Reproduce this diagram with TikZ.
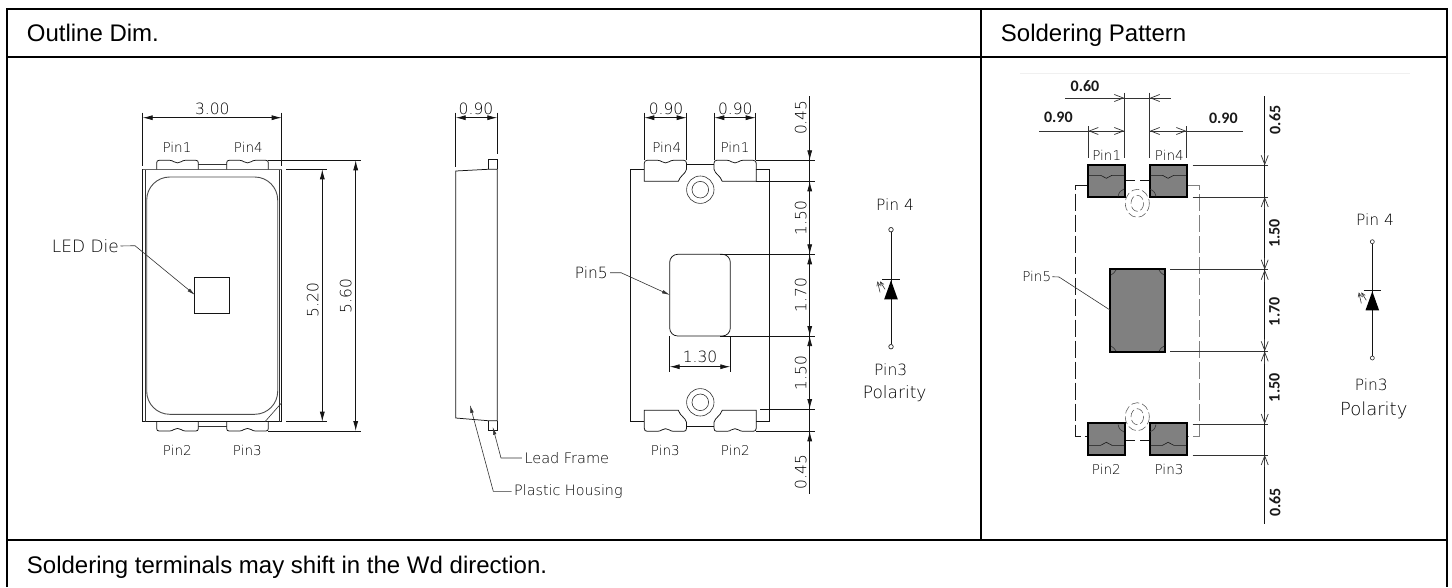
\documentclass[tikz,border=0pt]{standalone}
\usepackage{fontspec}
\usetikzlibrary{arrows.meta}
\setmainfont{Liberation Sans}
\newfontfamily\cadfont{DejaVu Sans ExtraLight}
\newfontfamily\calfont{Carlito}
\tikzset{
  grid/.style={line width=1.8pt,black},
  cad/.style={line width=0.75pt,draw=black!92},
  thn/.style={line width=0.6pt,draw=black!80},
  dimsolid/.style={cad,{Latex[length=10pt,width=5pt]}-{Latex[length=10pt,width=5pt]}},
  tipsolid/.style={cad,-{Latex[length=10pt,width=5pt]}},
  tipopen/.style={line width=0.7pt,draw=black!80,-{Straight Barb[length=9pt,width=7pt]}},
  leader/.style={thn,-{Latex[length=8pt,width=3.5pt]}},
  dashl/.style={line width=0.8pt,draw=black!90,dash pattern=on 17pt off 4pt},
  dashr/.style={line width=1pt,draw=black!50,dash pattern=on 17pt off 4pt},
  dashc/.style={line width=0.55pt,draw=black!65,dash pattern=on 8pt off 3pt},
  head/.style={anchor=base west,inner sep=0pt,font=\fontsize{24}{24}\selectfont},
  dimtxt/.style={inner sep=0pt,text=black,font=\cadfont\fontsize{15.5}{16}\selectfont},
  pintxt/.style={inner sep=0pt,text=black,font=\cadfont\fontsize{13.5}{14}\selectfont},
  wideleg/.style={inner sep=0pt,text=black,font=\cadfont\fontsize{17}{18}\selectfont},
  boldtxt/.style={inner sep=0pt,text=black!90,font=\calfont\bfseries\fontsize{16}{16}\selectfont},
  padbox/.style={line width=2pt,draw=black,fill=black!50},
  tabtop/.pic={\draw[cad] (0,9) -- (0,2.5) .. controls (0,0.8) and (0.8,0) .. (2.5,0) -- (13,0) .. controls (17,0.2) and (17,2.6) .. (20.8,2.6) .. controls (24.6,2.6) and (24.6,0.2) .. (28.6,0) -- (39.1,0) .. controls (40.8,0) and (41.6,0.8) .. (41.6,2.5) -- (41.6,9);},
  tabfull/.pic={\draw[cad] (0,21) -- (0,3) .. controls (0,1) and (1,0) .. (3,0) -- (13.5,0) .. controls (17.5,0.2) and (17.5,2.6) .. (21.2,2.6) .. controls (25,2.6) and (25,0.2) .. (29,0) -- (39.5,0) .. controls (41.2,0) and (42.2,1) .. (42.2,3) -- (42.2,9) .. controls (41,14) and (36,15) .. (34,21) -- cycle;},
  padpic/.pic={\draw[padbox] (0,0) rectangle (37.3,32);
    \draw[line width=0.6pt,draw=black!90] (1,10) -- (13,10) .. controls (16,10.2) and (16,13) .. (18.6,13) .. controls (21.2,13) and (21.2,10.2) .. (24.3,10) -- (36.3,10);},
  led/.pic={\fill[black] (0,1) -- (-6.8,20) -- (6.8,20) -- cycle;
    \draw[cad] (-8.8,0) -- (8.8,0);
    \draw[thn,-{Straight Barb[length=4pt,width=3.5pt]}] (-11,13) -- (-13.5,2);
    \draw[thn,-{Straight Barb[length=4pt,width=3.5pt]}] (-6,10) -- (-11,2);},
}
\begin{document}
\begin{tikzpicture}[x=1pt,y=-1pt]
\useasboundingbox (0,0) rectangle (1452,587);
\fill[white] (0,0) rectangle (1452,587);
% table
\draw[grid] (6.7,587) -- (6.7,9.3) -- (1447,9.3) -- (1447,587);
\draw[grid] (6.7,57.3) -- (1447,57.3);
\draw[grid] (6.7,540) -- (1447,540);
\draw[grid] (980.7,9.3) -- (980.7,540);
\node[head] (hOutline) at (26.7,41.7) {Outline Dim.};
\node[head] (hSolder) at (1000.7,41.7) {Soldering Pattern};
\node[head] (hNote) at (26.7,573) {Soldering terminals may shift in the Wd direction.};
% ===== top view
\draw[cad] (142.7,169.3) rectangle (281.7,421.7);
\draw[thn] (145,169.3) -- (145,421.7) (279.3,169.3) -- (279.3,421.7);
\draw[line width=1pt,draw=black!60] (142.7,169.3) -- (281.7,169.3);
\draw[cad,rounded corners=23pt,line width=0.9pt,draw=black!70] (146.7,177) rectangle (277.7,414.3);
\draw[thn] (265,421.7) -- (281.7,402.7);
\draw[cad] (194.3,277.3) rectangle (229.7,313.3);
\pic at (156.7,160.3) {tabtop};
\pic at (226.7,160.3) {tabtop};
\pic[yscale=-1] at (156.7,431) {tabtop};
\pic[yscale=-1] at (226.7,431) {tabtop};
\draw[thn] (198.3,164.7) -- (226.7,164.7) (198.3,426.3) -- (226.7,426.3);
\draw[cad] (142.7,112.7) -- (142.7,166) (281.7,112.7) -- (281.7,166);
\draw[dimsolid] (142.7,117.7) -- (281.7,117.7);
\node[dimtxt] (d300) at (212.3,108.5) {3.00};
\node[pintxt] (p1a) at (177,147) {Pin1};
\node[pintxt] (p4a) at (248.3,147) {Pin4};
\node[pintxt] (p2a) at (177.3,450) {Pin2};
\node[pintxt] (p3a) at (247.3,450) {Pin3};
% 5.20 / 5.60
\draw[cad] (286,169.3) -- (327.3,169.3) (286,421.7) -- (327.3,421.7);
\draw[dimsolid] (322.3,169.3) -- (322.3,421.7);
\node[dimtxt,rotate=90] (d520) at (312.7,300) {5.20};
\draw[cad] (268.3,160.3) -- (360.7,160.3) (268.3,431) -- (360.7,431);
\draw[dimsolid] (355.7,160.3) -- (355.7,431);
\node[dimtxt,rotate=90] (d560) at (345.7,296) {5.60};
\node[wideleg,anchor=east] (led) at (119,246) {LED Die};
\coordinate (ledv) at (135,245.7);
\coordinate (ledt) at (195,295);
\draw[leader] (led.east) ++(1.5,0) -- (ledv) -- (ledt);
% ===== side view
\draw[cad] (455.7,171) -- (488,169.3) -- (497.3,169.3) -- (497.3,420.7) -- (488,420.7) -- (455.7,418) -- cycle;
\draw[cad] (488,169.3) -- (488,159.3) -- (497.3,159.3) -- (497.3,169.3);
\draw[cad] (488,420.7) -- (488,430.7) -- (497.3,430.7) -- (497.3,420.7);
\draw[cad] (455.7,112.7) -- (455.7,167.3) (497.3,112.7) -- (497.3,154);
\draw[dimsolid] (455.7,117.7) -- (497.3,117.7);
\node[dimtxt] (d090a) at (476,108.5) {0.90};
\node[pintxt,font=\cadfont\fontsize{14.5}{15}\selectfont,anchor=west] (lf) at (524.3,458) {Lead Frame};
\coordinate (lfv) at (501,458);
\coordinate (lft) at (492.7,426.7);
\draw[leader] (lf.west) ++(-2.5,0) -- (lfv) -- (lft);
\node[pintxt,font=\cadfont\fontsize{14.3}{15}\selectfont,anchor=west] (ph) at (514,491.3) {Plastic Housing};
\coordinate (phv) at (493.3,491.3);
\coordinate (pht) at (470,405);
\draw[leader] (ph.west) ++(-2.5,0) -- (phv) -- (pht);
% ===== bottom view
\draw[cad] (644.3,169.3) -- (630.3,169.3) -- (630.3,421.7) -- (644.3,421.7);
\draw[cad] (755.7,169.3) -- (769.3,169.3) -- (769.3,421.7) -- (755.7,421.7);
\pic at (644.3,160.3) {tabfull};
\pic[xscale=-1] at (756.2,160.3) {tabfull};
\pic[yscale=-1] at (644.3,431.3) {tabfull};
\pic[xscale=-1,yscale=-1] at (756.2,431.3) {tabfull};
\draw[cad] (686.7,164.7) -- (714.3,164.7) (686.7,426.3) -- (714.3,426.3);
\draw[thn] (700.3,189.7) circle[radius=13.7] circle[radius=8.3];
\draw[thn] (700.3,402.3) circle[radius=13.7] circle[radius=8.3];
\draw[cad,rounded corners=8pt] (669.7,254.3) rectangle (730.3,336);
\draw[cad] (644.3,112.7) -- (644.3,160) (686.7,112.7) -- (686.7,160);
\draw[cad] (714.3,112.7) -- (714.3,160) (755.7,112.7) -- (755.7,160);
\draw[dimsolid] (644.3,117.7) -- (686.7,117.7);
\draw[dimsolid] (714.3,117.7) -- (755.7,117.7);
\node[dimtxt] (d090b) at (666,108.5) {0.90};
\node[dimtxt] (d090c) at (735.3,108.5) {0.90};
\node[pintxt] (p4b) at (666.7,147.3) {Pin4};
\node[pintxt] (p1b) at (735,147.3) {Pin1};
\node[pintxt] (p3b) at (665.3,450) {Pin3};
\node[pintxt] (p2b) at (735.3,450) {Pin2};
\node[dimtxt,anchor=east] (p5b) at (608,272.7) {Pin5};
\coordinate (p5v) at (621,272.7);
\coordinate (p5t) at (670,295);
\draw[leader] (p5b.east) ++(2,0) -- (p5v) -- (p5t);
\draw[cad] (669.7,336) -- (669.7,371.7) (730.3,336) -- (730.3,371.7);
\draw[dimsolid] (669.7,366.7) -- (730.3,366.7);
\node[dimtxt] (d130) at (700,356.7) {1.30};
% right chain
\draw[cad] (755.7,160.3) -- (815,160.3) (755.7,181.3) -- (815,181.3);
\draw[cad] (720,254.3) -- (815,254.3) (720,336) -- (815,336);
\draw[cad] (760,409) -- (815,409) (756,431.3) -- (815,431.3);
\draw[cad] (809.7,96) -- (809.7,494.3);
\foreach \a/\b in {150.3/160.3,191.3/181.3,244.3/254.3,264.3/254.3,326/336,346/336,399/409,441.3/431.3}
  \draw[tipsolid] (809.7,\a) -- (809.7,\b);
\node[dimtxt,rotate=90] (c1) at (800.7,117.7) {0.45};
\node[dimtxt,rotate=90] (c2) at (800.7,218.3) {1.50};
\node[dimtxt,rotate=90] (c3) at (800.7,295) {1.70};
\node[dimtxt,rotate=90] (c4) at (800.7,373.3) {1.50};
\node[dimtxt,rotate=90] (c5) at (800.7,472.3) {0.45};
% polarity 1
\node[dimtxt] (pa4) at (895,205) {Pin 4};
\node[draw=black!85,line width=0.7pt,circle,minimum size=4.5pt,inner sep=0pt] (pat) at (891,229.7) {};
\node[draw=black!85,line width=0.7pt,circle,minimum size=4.5pt,inner sep=0pt] (pab) at (891,346.7) {};
\draw[cad] (pat) -- (pab);
\pic at (891,279.3) {led};
\node[dimtxt] (pa3) at (890.7,370) {Pin3};
\node[wideleg] (papol) at (894.7,393.3) {Polarity};
% ===== soldering pattern
\draw[line width=0.6pt,draw=black!6] (1020,73.3) -- (1410,73.3);
\draw[dashl] (1087.7,185) -- (1075.3,185) -- (1075.3,436) -- (1087.7,436);
\draw[dashr] (1187,185) -- (1199,185) -- (1199,436) -- (1187,436);
\draw[cad] (1125,180.3) -- (1135,180.3) (1140,180.3) -- (1149.3,180.3);
\draw[cad] (1125,440.3) -- (1135,440.3) (1140,440.3) -- (1149.3,440.3);
\draw[dashc] (1137.3,203.3) circle[x radius=12,y radius=14];
\draw[dashc] (1137.3,203.3) circle[x radius=6.3,y radius=8];
\draw[dashc] (1137.3,416.7) circle[x radius=12,y radius=14];
\draw[dashc] (1137.3,416.7) circle[x radius=6.3,y radius=8];
\pic at (1087.7,165.3) {padpic};
\pic at (1149.5,165.3) {padpic};
\pic[yscale=-1] at (1087.7,455.3) {padpic};
\pic[yscale=-1] at (1149.5,455.3) {padpic};
\draw[thn] (1118,196.5) .. controls (1119,192) and (1121,190) .. (1124,189);
\draw[thn] (1150,189) .. controls (1153,190) and (1155,192) .. (1156,196.5);
\draw[thn] (1118,424.5) .. controls (1119,429) and (1121,431) .. (1124,432);
\draw[thn] (1150,432) .. controls (1153,431) and (1155,429) .. (1156,424.5);
\draw[padbox] (1110.3,269.3) rectangle (1164.7,351.5);
\draw[thn] (1111,275) .. controls (1113,274) and (1115,272) .. (1116,270);
\draw[thn] (1159,270) .. controls (1160,272) and (1162,274) .. (1164,275);
\draw[thn] (1111,346) .. controls (1113,347) and (1115,349) .. (1116,351);
\draw[thn] (1159,351) .. controls (1160,349) and (1162,347) .. (1164,346);
% horizontal dimensions
\draw[thn] (1124.3,92.7) -- (1124.3,158.3) (1149.7,92.7) -- (1149.7,158.3);
\draw[thn] (1088.3,126) -- (1088.3,158.3) (1186.3,126) -- (1186.3,158.3);
\draw[thn] (1065,98) -- (1170.7,98);
\draw[thn] (1039,131) -- (1124.3,131);
\draw[thn] (1149.7,131) -- (1243.3,131);
\draw[tipopen] (1113,98) -- (1124.3,98);
\draw[tipopen] (1161,98) -- (1149.7,98);
\draw[tipopen] (1100,131) -- (1088.3,131);
\draw[tipopen] (1113,131) -- (1124.3,131);
\draw[tipopen] (1161,131) -- (1149.7,131);
\draw[tipopen] (1175,131) -- (1186.3,131);
\node[boldtxt] (s060) at (1085,85.7) {0.60};
\node[boldtxt] (s090a) at (1058.3,117.7) {0.90};
\node[boldtxt] (s090b) at (1223.3,118.3) {0.90};
\node[pintxt] (p1c) at (1106.7,155) {Pin1};
\node[pintxt] (p4c) at (1169.3,155) {Pin4};
\node[pintxt] (p2c) at (1106.3,469) {Pin2};
\node[pintxt] (p3c) at (1169,469) {Pin3};
\node[pintxt] (p5c) at (1036.7,276.7) {Pin5};
\coordinate (p5cv) at (1059,277);
\coordinate (p5ct) at (1110,310);
\draw[thn] (p5c.east) ++(1,0) -- (p5cv) -- (p5ct);
% vertical chain
\draw[thn] (1192.7,165.3) -- (1268.3,165.3) (1192.7,197) -- (1268.3,197);
\draw[thn] (1170,269.7) -- (1268.3,269.7) (1170,351.3) -- (1268.3,351.3);
\draw[thn] (1192.7,424) -- (1268.3,424) (1192.7,455) -- (1268.3,455);
\draw[cad] (1264.7,96) -- (1264.7,524.3);
\foreach \a/\b in {153/165.3,209/197,257.5/269.7,282/269.7,339/351.3,363.5/351.3,412/424,467/455}
  \draw[tipopen] (1264.7,\a) -- (1264.7,\b);
\node[boldtxt,rotate=90] (v1) at (1275,120) {0.65};
\node[boldtxt,rotate=90] (v2) at (1274.3,233.3) {1.50};
\node[boldtxt,rotate=90] (v3) at (1274.3,311.7) {1.70};
\node[boldtxt,rotate=90] (v4) at (1274.3,387.7) {1.50};
\node[boldtxt,rotate=90] (v5) at (1275,502.3) {0.65};
% polarity 2
\node[dimtxt] (pb4) at (1375,219.3) {Pin 4};
\node[draw=black!85,line width=0.6pt,circle,minimum size=4pt,inner sep=0pt] (pbt) at (1372.3,241.7) {};
\node[draw=black!85,line width=0.6pt,circle,minimum size=4pt,inner sep=0pt] (pbb) at (1372.3,358) {};
\draw[cad] (pbt) -- (pbb);
\pic at (1372.3,290.3) {led};
\node[dimtxt] (pb3) at (1371.3,384.3) {Pin3};
\node[wideleg,font=\cadfont\fontsize{18}{18}\selectfont] (pbpol) at (1373.7,410) {Polarity};
\end{tikzpicture}
\end{document}
